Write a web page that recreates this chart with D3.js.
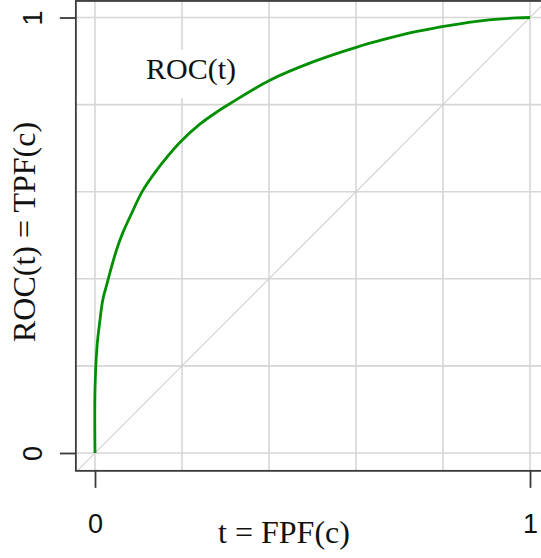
<!DOCTYPE html>
<html>
<head>
<meta charset="utf-8">
<script src="https://cdn.jsdelivr.net/npm/d3@7"></script>
<style>
  html, body { margin: 0; padding: 0; background: #fff; overflow: hidden; }
</style>
</head>
<body>
<svg id="chart" width="541" height="558"></svg>
<script>
// ROC curve values
const fpf = [0, 0, 0.0046, 0.0115, 0.018, 0.028, 0.034, 0.041, 0.05, 0.064, 0.085, 0.11, 0.143,
  0.166, 0.195, 0.241, 0.283, 0.31, 0.402, 0.501, 0.602, 0.662, 0.74, 0.816, 0.892, 0.97, 1];
const tpf = [0, 0.145, 0.244, 0.306, 0.352, 0.39, 0.413, 0.438, 0.468, 0.506, 0.552, 0.603, 0.651,
  0.68, 0.713, 0.755, 0.785, 0.802, 0.856, 0.898, 0.932, 0.949, 0.968, 0.982, 0.993, 0.999, 1];
const gridVals = [0, 0.2, 0.4, 0.6, 0.8, 1];
const tickVals = [0, 1];

const svg = d3.select("#chart");

const x = d3.scaleLinear().domain([0, 1]).range([95, 530]);
const y = d3.scaleLinear().domain([0, 1]).range([453, 17.5]);

// plot region (R style padding)
const x0 = x(-0.044), x1 = x(1.044);
const y0 = y(-0.041), y1 = y(1.038);

svg.append("clipPath").attr("id", "plotclip")
  .append("rect").attr("x", x0).attr("y", y1).attr("width", x1 - x0).attr("height", y0 - y1);

const plot = svg.append("g").attr("clip-path", "url(#plotclip)");

// grid
plot.selectAll(".vgrid").data(gridVals).join("line")
  .attr("x1", d => x(d)).attr("x2", d => x(d))
  .attr("y1", y1).attr("y2", y0)
  .attr("stroke", "#d6d6d6").attr("stroke-width", 1.6);
plot.selectAll(".hgrid").data(gridVals).join("line")
  .attr("y1", d => y(d)).attr("y2", d => y(d))
  .attr("x1", x0).attr("x2", x1)
  .attr("stroke", "#d6d6d6").attr("stroke-width", 1.6);

// chance diagonal
plot.append("line")
  .attr("x1", x(-0.1)).attr("y1", y(-0.1))
  .attr("x2", x(1.1)).attr("y2", y(1.1))
  .attr("stroke", "#d0d0d0").attr("stroke-width", 1.1);

// label with white background
const lab = plot.append("g");
lab.append("rect").attr("x", 139).attr("y", 50).attr("width", 104).attr("height", 48).attr("fill", "#fff");
lab.append("text")
  .attr("x", 191).attr("y", 79)
  .attr("text-anchor", "middle")
  .style("font-family", "'Liberation Serif', 'DejaVu Serif', serif")
  .style("font-size", "30px")
  .attr("fill", "#111")
  .text("ROC(t)");

// ROC curve
const line = d3.line()
  .x((d, i) => x(fpf[i]))
  .y((d, i) => y(tpf[i]))
  .curve(d3.curveCatmullRom.alpha(0.5));
plot.append("path")
  .datum(fpf)
  .attr("d", line)
  .attr("fill", "none")
  .attr("stroke", "#008f00")
  .attr("stroke-width", 2.8)
  .attr("stroke-linejoin", "round");

// box
svg.append("rect")
  .attr("x", x0).attr("y", y1)
  .attr("width", x1 - x0).attr("height", y0 - y1)
  .attr("fill", "none").attr("stroke", "#3a3a3a").attr("stroke-width", 1.8);

// axes
const xAxis = d3.axisBottom(x).tickValues(tickVals).tickSize(17).tickFormat(d3.format("d"));
const yAxis = d3.axisLeft(y).tickValues(tickVals).tickSize(16).tickFormat(d3.format("d"));

const gx = svg.append("g").attr("transform", `translate(0,${y0})`).call(xAxis);
gx.select(".domain").remove();
gx.selectAll(".tick line").attr("stroke", "#3a3a3a").attr("stroke-width", 1.8);
gx.selectAll(".tick text")
  .attr("y", 62).attr("dy", 0)
  .style("font-family", "'Liberation Sans', Arial, sans-serif")
  .style("font-size", "27px")
  .attr("fill", "#111");

const gy = svg.append("g").attr("transform", `translate(${x0},0)`).call(yAxis);
gy.select(".domain").remove();
gy.selectAll(".tick line").attr("stroke", "#3a3a3a").attr("stroke-width", 1.8);
gy.selectAll(".tick text")
  .attr("transform", "rotate(-90)")
  .attr("x", 0).attr("y", -34).attr("dy", 0)
  .attr("text-anchor", "middle")
  .style("font-family", "'Liberation Sans', Arial, sans-serif")
  .style("font-size", "27px")
  .attr("fill", "#111");

// axis titles
svg.append("text")
  .attr("x", 284).attr("y", 543)
  .attr("text-anchor", "middle")
  .style("font-family", "'Liberation Serif', 'DejaVu Serif', serif")
  .style("font-size", "32px")
  .attr("fill", "#111")
  .attr("xml:space", "preserve")
  .text("t = FPF(c)");

svg.append("text")
  .attr("transform", "translate(35,232) rotate(-90)")
  .attr("text-anchor", "middle")
  .style("font-family", "'Liberation Serif', 'DejaVu Serif', serif")
  .style("font-size", "32px")
  .attr("fill", "#111")
  .text("ROC(t) = TPF(c)");
</script>
</body>
</html>
